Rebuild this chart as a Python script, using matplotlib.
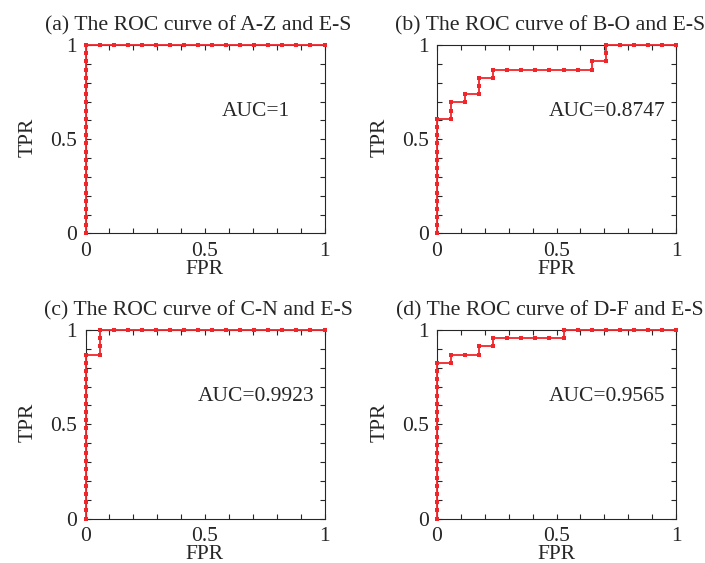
import numpy as np
import matplotlib
matplotlib.use('Agg')
import matplotlib.pyplot as plt
from matplotlib.ticker import MultipleLocator

plt.rcParams['font.family'] = ['Liberation Serif', 'DejaVu Serif']
plt.rcParams['font.size'] = 15

# 23 positive and 17 negative samples in every test
N_POS = 23
N_NEG = 17

# number of true positives reached at each false-positive count 0..17
tp_a = [23, 23, 23, 23, 23, 23, 23, 23, 23, 23, 23, 23, 23, 23, 23, 23, 23, 23]
tp_b = [14, 16, 17, 19, 20, 20, 20, 20, 20, 20, 20, 21, 23, 23, 23, 23, 23, 23]
tp_c = [20, 23, 23, 23, 23, 23, 23, 23, 23, 23, 23, 23, 23, 23, 23, 23, 23, 23]
tp_d = [19, 20, 20, 21, 22, 22, 22, 22, 22, 23, 23, 23, 23, 23, 23, 23, 23, 23]

titles = ['(a) The ROC curve of A-Z and E-S', '(b) The ROC curve of B-O and E-S',
          '(c) The ROC curve of C-N and E-S', '(d) The ROC curve of D-F and E-S']
auc_x = [0.572, 0.466, 0.469, 0.466]

TXT = '#262626'
RED = '#f0262b'


def roc_points(tp_at):
    fpr, tpr = [0], [0]
    prev = 0
    for k, tp in enumerate(tp_at):
        for t in range(prev + 1, tp + 1):
            fpr.append(k)
            tpr.append(t)
        if k < N_NEG:
            fpr.append(k + 1)
            tpr.append(tp)
        prev = tp
    return np.array(fpr) / N_NEG, np.array(tpr) / N_POS


fig = plt.figure(figsize=(7.05, 5.63), dpi=100)
W, H = 705, 563
boxes = [(85.5, 45), (437, 45), (85.5, 330), (437, 330)]
aw, ah = 239, 188.5

for i, tp_at in enumerate([tp_a, tp_b, tp_c, tp_d]):
    x0, y0 = boxes[i]
    ax = fig.add_axes([x0 / W, 1 - (y0 + ah) / H, aw / W, ah / H])
    fpr, tpr = roc_points(tp_at)
    ax.plot(fpr, tpr, color=RED, lw=1.3, marker='s', ms=2.6, mew=0,
            clip_on=False, zorder=5)

    ax.set_xlim(0, 1)
    ax.set_ylim(0, 1)
    for a in (ax.xaxis, ax.yaxis):
        a.set_major_locator(MultipleLocator(0.5))
        a.set_minor_locator(MultipleLocator(0.1))
    ax.set_xticks([0, 0.5, 1])
    ax.set_xticklabels(['0', '0.5', '1'])
    ax.set_yticks([0, 0.5, 1])
    ax.set_yticklabels(['0', '0.5', '1'])
    ax.tick_params(which='both', direction='in', top=True, right=True,
                   length=3.5, width=0.8, colors=TXT, labelsize=15.5, pad=6)
    for s in ax.spines.values():
        s.set_color(TXT)
        s.set_linewidth(0.8)

    ax.set_xlabel('FPR', color=TXT, fontsize=15.5)
    ax.set_ylabel('TPR', color=TXT, fontsize=15.5)
    ax.xaxis.set_label_coords(0.5, -0.14)
    ax.yaxis.set_label_coords(-0.2, 0.51)

    ax.text(0.473, 1 + 15 / ah, titles[i], transform=ax.transAxes, ha='center',
            va='baseline', fontsize=15.7, color=TXT)

    auc = sum(tp_at[:N_NEG]) / (N_NEG * N_POS)
    ax.text(auc_x[i], 0.647, f'AUC={auc:.4g}', transform=ax.transAxes,
            ha='left', va='center', fontsize=15.5, color=TXT)

fig.savefig('out.png', dpi=100)
